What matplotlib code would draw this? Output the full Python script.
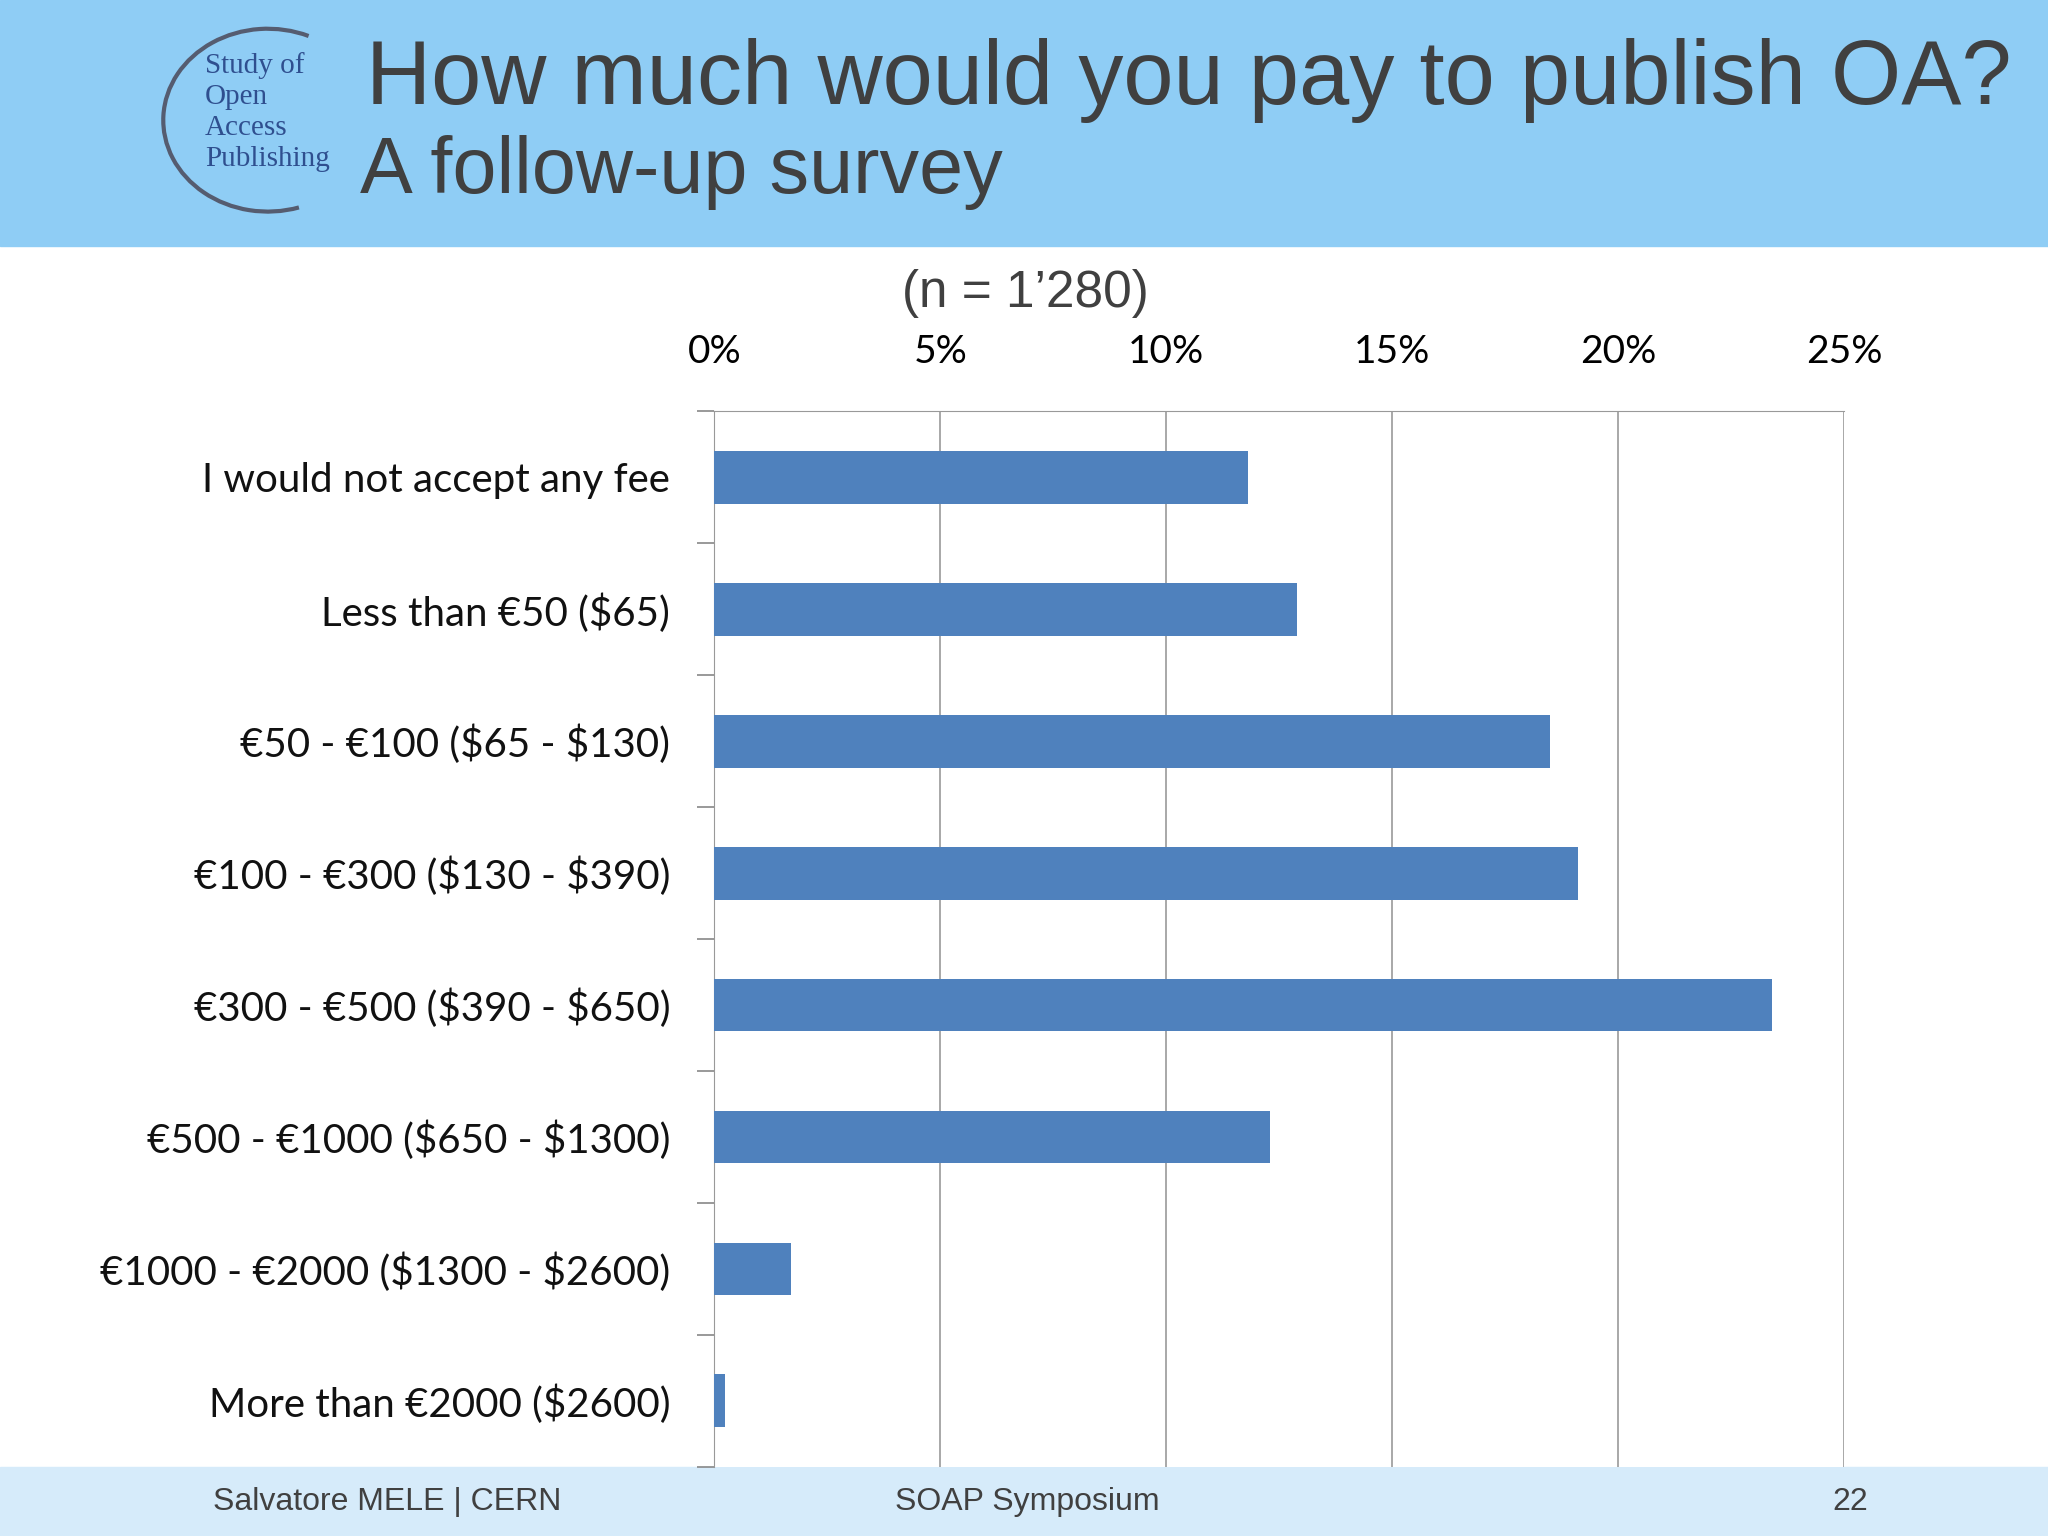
import matplotlib
matplotlib.use("Agg")
import matplotlib.pyplot as plt
from matplotlib.patches import Rectangle, Arc

plt.rcParams["text.parse_math"] = False
categories = ["I would not accept any fee", "Less than €50 ($65)", "€50 - €100 ($65 - $130)",
              "€100 - €300 ($130 - $390)", "€300 - €500 ($390 - $650)", "€500 - €1000 ($650 - $1300)",
              "€1000 - €2000 ($1300 - $2600)", "More than €2000 ($2600)"]
values = [11.8, 12.9, 18.5, 19.1, 23.4, 12.3, 1.7, 0.23]
ticks = [0, 5, 10, 15, 20, 25]
tick_labels = ["0%", "5%", "10%", "15%", "20%", "25%"]

fig = plt.figure(figsize=(20.48, 15.36), dpi=100)
fig.patch.set_facecolor("white")
fig.add_artist(Rectangle((0, 1-188/1176), 1, 188/1176, transform=fig.transFigure, color="#8fcdf5", zorder=0))
fig.add_artist(Rectangle((0, 0), 1, 53/1176, transform=fig.transFigure, color="#d6ebfa", zorder=0))
fig.text(280/1568, 1-62/1176, "How much would you pay to publish OA?", fontsize=65, color="#404040",
         family="Liberation Sans", va="center")
fig.text(276/1568, 1-132/1176, "A follow-up survey", fontsize=57, color="#404040",
         family="Liberation Sans", va="center")
fig.add_artist(Arc((205/1568, 1-92/1176), 160/1568, 140/1176, theta1=70, theta2=285,
                   transform=fig.transFigure, color="#555c70", lw=3))
for i, t in enumerate(["Study of", "Open", "Access", "Publishing"]):
    fig.text(157/1568, 1-(50+24*i)/1176, t, fontsize=21, color="#2f4f8f",
             family="Liberation Serif", va="center")

ax = fig.add_axes([547/1568, 1-1123/1176, (1412-547)/1568, (1123-315)/1176])
y = list(range(len(categories)))
ax.barh(y, values, height=0.4, color="#4f81bd", zorder=3)
ax.set_ylim(len(categories)-0.5, -0.5)
ax.set_xlim(0, 25)
ax.xaxis.tick_top()
ax.set_xticks(ticks)
ax.set_xticklabels(tick_labels, fontsize=28, family="Lato")
ax.tick_params(axis="x", length=0, pad=30)
ax.set_yticks(y)
ax.set_yticklabels(categories, fontsize=29, family="Lato", color="#111111")
ax.tick_params(axis="y", length=0, pad=32)
ax.set_yticks([i+0.5 for i in range(-1, len(categories))], minor=True)
ax.tick_params(axis="y", which="minor", length=12, color="#888888", width=1.2)
ax.grid(axis="x", color="#999999", lw=1.2, zorder=0)
for s in ["right", "bottom"]:
    ax.spines[s].set_visible(False)
ax.spines["top"].set_color("#999999")
ax.spines["left"].set_color("#999999")
ax.set_title("(n = 1’280)", fontsize=37, family="Liberation Sans", color="#404040", pad=75, x=0.275)

fig.text(163/1568, 1-1150/1176, "Salvatore MELE | CERN", fontsize=23, family="Liberation Sans", color="#404040", va="center")
fig.text(685/1568, 1-1150/1176, "SOAP Symposium", fontsize=23, family="Liberation Sans", color="#404040", va="center")
fig.text(1403/1568, 1-1150/1176, "22", fontsize=23, family="Liberation Sans", color="#404040", va="center")
fig.savefig("out.png", dpi=100)
